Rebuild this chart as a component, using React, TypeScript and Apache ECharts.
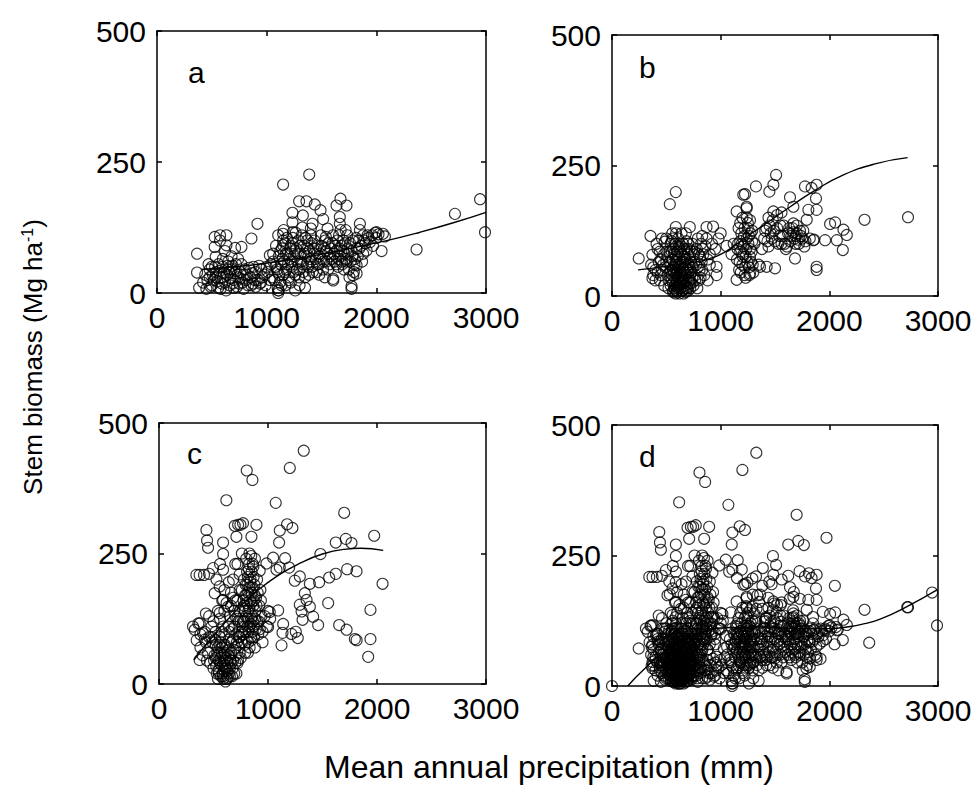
import React, { useEffect, useRef } from "react";
import * as echarts from "echarts";

// ---- data (x: mean annual precipitation, mm; y: stem biomass, Mg/ha) ----
const xTicks = [0, 1000, 2000, 3000];
const yTicks = [0, 250, 500];
const panelLabels = ["a", "b", "c", "d"];

const aPoints = [
  [365, 75], [365, 39], [384, 10], [526, 107], [575, 110], [526, 88], [575, 100], [535, 69], [633, 110], [633, 91],
  [770, 88], [712, 86], [861, 104], [916, 132], [1150, 207], [1388, 226], [1296, 175], [1363, 175], [1439, 169],
  [1491, 158], [1235, 153], [1235, 135], [1330, 148], [1239, 116], [1515, 141], [1673, 180], [1728, 167], [1637, 167],
  [1667, 145], [1667, 132], [1850, 132], [1850, 120], [2002, 116], [2078, 108], [2048, 80], [2367, 83], [2717, 151],
  [2946, 179], [2991, 116], [1774, 13], [1774, 8], [1105, 0], [1105, 5], [1607, 24], [1820, 37], [876, 18], [937, 18],
  [1059, 75], [1029, 72], [1150, 113], [1150, 100], [1150, 91], [1418, 132], [1403, 123], [1555, 123], [1540, 107],
  [1941, 97], [1911, 81], [1880, 75], [1820, 53], [1789, 34],
  [420, 20], [450, 8], [480, 30], [500, 15], [520, 25], [540, 40], [560, 10], [580, 30], [600, 50], [620, 20],
  [640, 35], [660, 15], [680, 45], [700, 25], [720, 55], [740, 30], [760, 40], [780, 20], [800, 45], [820, 35],
  [850, 30], [880, 50], [900, 40], [920, 25], [950, 45], [980, 35], [1000, 50], [700, 10], [650, 60], [600, 65],
  [560, 55], [620, 80], [680, 70], [740, 65], [540, 30], [590, 18], [630, 5], [480, 45], [510, 35], [790, 8],
  [860, 15], [900, 12], [950, 20], [670, 28], [710, 38], [750, 18], [690, 52], [730, 12], [810, 25], [840, 48],
  [460, 25], [490, 12], [530, 50], [550, 22], [570, 42], [610, 38], [640, 52], [660, 40], [690, 18], [720, 42],
  [760, 28], [770, 55], [790, 35], [830, 15], [870, 38], [890, 25], [930, 52], [960, 30], [990, 15], [1010, 40],
  [1030, 25], [1040, 55], [600, 30], [650, 45], [580, 8], [500, 50], [470, 55], [440, 35],
  [1050, 30], [1080, 50], [1100, 10], [1100, 40], [1110, 70], [1120, 20], [1130, 55], [1140, 85], [1150, 35],
  [1160, 60], [1170, 95], [1180, 45], [1190, 75], [1200, 25], [1210, 65], [1220, 90], [1230, 50], [1240, 105],
  [1250, 70], [1260, 35], [1270, 85], [1280, 60], [1290, 100], [1300, 45], [1310, 75], [1320, 110], [1330, 55],
  [1340, 90], [1350, 30], [1360, 70], [1370, 100], [1380, 50], [1390, 80], [1400, 60], [1410, 95], [1420, 40],
  [1430, 75], [1450, 85], [1460, 55], [1480, 70], [1500, 90], [1520, 60], [1540, 80], [1560, 45], [1580, 70],
  [1600, 95], [1620, 60], [1640, 80], [1650, 50], [1660, 110], [1670, 70], [1680, 90], [1690, 55], [1700, 100],
  [1710, 75], [1720, 120], [1730, 60], [1740, 85], [1750, 45], [1760, 95], [1780, 70], [1800, 55], [1820, 85],
  [1840, 100], [1860, 90], [1880, 110], [1900, 95], [1920, 110], [1960, 110], [2000, 105], [1990, 115],
  [1170, 15], [1220, 20], [1260, 5], [1300, 15], [1350, 10], [1110, 5], [1606, 27], [1480, 35], [1530, 30],
  [1060, 60], [1070, 25], [1085, 90], [1095, 45], [1105, 110], [1115, 35], [1125, 80], [1135, 15], [1145, 65],
  [1155, 120], [1165, 40], [1175, 75], [1185, 105], [1195, 55], [1205, 30], [1215, 85], [1225, 60], [1235, 95],
  [1245, 40], [1255, 80], [1265, 115], [1275, 45], [1285, 75], [1295, 30], [1305, 90], [1315, 60], [1325, 125],
  [1335, 40], [1345, 75], [1355, 105], [1365, 55], [1375, 85], [1385, 35], [1395, 65], [1405, 110], [1415, 50],
  [1425, 85], [1435, 100], [1445, 65], [1455, 40], [1465, 90], [1475, 55], [1485, 75], [1495, 110], [1505, 65],
  [1515, 45], [1525, 85], [1535, 100], [1545, 60], [1555, 75], [1565, 95], [1575, 55], [1585, 85], [1595, 65],
  [1605, 110], [1615, 75], [1625, 90], [1635, 55], [1645, 100], [1655, 65], [1665, 85], [1675, 120], [1685, 60],
  [1695, 80], [1705, 45], [1715, 95], [1725, 65], [1735, 110], [1745, 75], [1755, 30], [1765, 60], [1775, 80],
  [1785, 100], [1795, 40], [1805, 65], [1815, 105], [1830, 70], [1845, 85], [1870, 60], [1890, 100], [1930, 105],
  [1970, 90], [2020, 112], [2060, 113],
];

const bPoints = [
  [246, 72], [354, 115], [372, 79], [372, 34], [532, 176], [587, 199], [587, 132], [716, 132], [485, 104], [870, 132],
  [930, 133], [962, 56], [962, 40], [1054, 96], [1147, 162], [1208, 194], [1239, 171], [1325, 210], [1448, 200],
  [1485, 213], [1510, 232], [1147, 31], [1270, 43], [1362, 56], [1423, 56], [1500, 53], [1485, 162], [1638, 189],
  [1669, 171], [1776, 210], [1837, 207], [1883, 213], [1877, 187], [1883, 165], [1807, 165], [1792, 146], [1669, 139],
  [1684, 72], [1883, 56], [1883, 50], [2007, 138], [2053, 141], [2130, 127], [2161, 117], [2124, 88], [2069, 107],
  [2324, 146], [2724, 151], [1961, 107], [1853, 107], [1224, 195], [1239, 168],
  [400, 50], [420, 90], [440, 30], [450, 70], [460, 110], [480, 20], [490, 55], [500, 85], [510, 40], [520, 15],
  [530, 65], [540, 100], [550, 30], [555, 120], [560, 50], [565, 10], [570, 80], [575, 35], [580, 60], [585, 5],
  [590, 95], [595, 25], [600, 45], [600, 70], [605, 15], [610, 110], [615, 35], [620, 55], [625, 20], [630, 85],
  [635, 40], [640, 65], [645, 10], [650, 30], [655, 100], [660, 50], [665, 75], [670, 20], [680, 40], [690, 90],
  [700, 60], [710, 30], [720, 75], [730, 45], [740, 100], [750, 20], [760, 65], [770, 40], [780, 90], [790, 55],
  [800, 30], [810, 75], [820, 100], [830, 50], [840, 80], [860, 95], [880, 70], [900, 60], [850, 40], [880, 30],
  [700, 10], [620, 5], [560, 110], [500, 110], [540, 50], [560, 70], [580, 20], [600, 30], [620, 40], [640, 25],
  [660, 35], [680, 55], [700, 45], [720, 25], [590, 40], [610, 60], [630, 15], [650, 50], [670, 65], [550, 85],
  [570, 45], [610, 85], [640, 95], [680, 15], [720, 50], [740, 35], [600, 8], [660, 12], [590, 75], [530, 45],
  [510, 75], [470, 60], [450, 40], [430, 65], [400, 30], [380, 55], [410, 100], [760, 85], [790, 110], [830, 115],
  [870, 110], [900, 80], [920, 100], [950, 90], [980, 110], [1000, 120],
  [520, 30], [530, 85], [540, 20], [545, 60], [550, 105], [555, 40], [560, 25], [565, 90], [570, 55], [575, 15],
  [580, 100], [585, 45], [590, 65], [595, 10], [600, 85], [605, 50], [610, 20], [615, 95], [620, 70], [625, 45],
  [630, 25], [635, 60], [640, 10], [645, 80], [650, 40], [655, 65], [660, 25], [665, 90], [670, 45], [675, 70],
  [680, 30], [685, 105], [690, 50], [695, 15], [700, 80], [705, 35], [710, 60], [715, 90], [720, 15], [725, 65],
  [730, 85], [735, 25], [745, 55], [755, 80], [765, 30], [775, 60], [785, 15], [795, 80], [805, 50], [815, 35],
  [825, 65], [835, 90], [560, 8], [580, 12], [600, 18], [620, 28], [640, 40], [660, 5], [680, 8], [620, 100],
  [590, 120], [640, 120], [680, 120], [700, 100], [500, 65], [480, 80], [460, 50], [420, 45], [440, 85], [380, 40],
  [360, 60],
  [1150, 70], [1160, 100], [1170, 50], [1180, 85], [1190, 120], [1200, 60], [1210, 95], [1220, 40], [1230, 75],
  [1240, 110], [1250, 140], [1260, 55], [1270, 90], [1280, 65], [1290, 125], [1300, 45], [1310, 100], [1200, 150],
  [1250, 130], [1230, 35], [1100, 80], [1120, 100], [1350, 60], [1380, 90], [1240, 150], [1260, 115], [1220, 130],
  [1180, 105], [1270, 75], [1210, 80], [1155, 90], [1165, 130], [1175, 65], [1185, 45], [1195, 100], [1205, 75],
  [1215, 115], [1225, 55], [1235, 90], [1245, 65], [1255, 100], [1265, 40], [1275, 120], [1285, 85], [1295, 60],
  [1180, 140], [1270, 145], [1290, 105],
  [1400, 110], [1420, 130], [1440, 95], [1460, 120], [1480, 145], [1500, 105], [1520, 130], [1540, 115],
  [1560, 100], [1580, 135], [1600, 90], [1620, 120], [1640, 105], [1660, 130], [1680, 110], [1700, 120],
  [1720, 100], [1740, 115], [1760, 125], [1780, 105], [1440, 150], [1520, 155], [1560, 160], [1610, 95],
  [1690, 115], [1710, 108], [1670, 122], [1820, 110], [1860, 108], [1410, 125], [1430, 105], [1450, 135],
  [1470, 110], [1490, 125], [1530, 100], [1550, 135], [1570, 115], [1590, 100], [1630, 130], [1650, 115],
  [1690, 100], [1700, 135], [1730, 125], [1750, 110], [1770, 95],
];

const cPoints = [
  [1328, 447], [1200, 414], [805, 409], [857, 391], [618, 352], [1071, 347], [1699, 328], [747, 305], [695, 303],
  [894, 305], [1175, 306], [1224, 299], [1108, 294], [710, 282], [848, 282], [441, 275], [450, 261], [588, 271],
  [1102, 271], [1974, 284], [1714, 278], [1622, 271], [1766, 270], [1481, 249], [588, 249], [373, 209], [459, 211],
  [1047, 242], [1157, 241], [1108, 223], [1194, 223], [1292, 206], [1246, 198], [1384, 192], [1469, 195], [1561, 204],
  [1622, 211], [1726, 220], [1812, 216], [2051, 192], [1338, 174], [1354, 161], [1384, 148], [1414, 129], [1460, 113],
  [1292, 152], [1308, 139], [1317, 123], [1255, 100], [1273, 88], [1552, 155], [1940, 142], [1653, 113], [1721, 104],
  [1797, 86], [1813, 84], [1940, 86], [1919, 52], [1139, 115], [1133, 98], [1124, 74], [1215, 96], [1093, 141],
  [1016, 138], [924, 217], [1001, 109], [312, 110], [361, 116], [346, 84], [373, 46], [710, 20], [588, 15],
  [343, 209], [413, 209], [496, 222], [588, 219], [527, 200], [557, 187], [511, 174], [588, 161], [634, 148],
  [557, 136], [374, 116], [328, 104], [481, 110], [404, 97], [986, 231], [1078, 219], [726, 305], [771, 308], [435, 295],
  [760, 80], [770, 120], [780, 150], [790, 100], [800, 170], [800, 130], [810, 190], [815, 60], [820, 140], [825, 220],
  [830, 110], [835, 160], [840, 200], [845, 90], [850, 175], [855, 130], [860, 230], [865, 150], [870, 110], [875, 190],
  [880, 70], [885, 140], [890, 165], [900, 120], [910, 95], [920, 150], [930, 180], [940, 130], [950, 100], [970, 130],
  [990, 110], [1000, 140], [1020, 125], [760, 180], [780, 200], [800, 240], [830, 250], [850, 215], [790, 60],
  [740, 140], [720, 160], [730, 100], [750, 50], [900, 200], [950, 80], [880, 240], [790, 140], [810, 110], [820, 80],
  [830, 185], [860, 100], [870, 160], [845, 125], [805, 155], [775, 95], [815, 205],
  [765, 110], [775, 160], [785, 75], [795, 190], [805, 85], [812, 125], [818, 175], [822, 100], [828, 145], [832, 70],
  [838, 195], [842, 115], [848, 155], [852, 85], [858, 185], [862, 120], [868, 205], [872, 90], [878, 170], [882, 125],
  [888, 105], [895, 150], [905, 175], [915, 120], [925, 105], [935, 160], [808, 215], [826, 230], [846, 245],
  [866, 225], [790, 170], [780, 120], [770, 145], [760, 100], [750, 120], [740, 90], [730, 75],
  [450, 60], [470, 40], [490, 80], [500, 30], [510, 55], [520, 100], [530, 20], [540, 70], [550, 45], [560, 90],
  [570, 15], [575, 60], [580, 35], [590, 110], [600, 25], [605, 75], [610, 50], [620, 10], [630, 40], [640, 85],
  [650, 30], [660, 60], [670, 105], [680, 45], [690, 20], [700, 70], [710, 95], [720, 40], [730, 120], [740, 60],
  [700, 130], [650, 130], [600, 140], [560, 125], [520, 75], [480, 90], [430, 80], [420, 100], [380, 95], [660, 175],
  [640, 195], [600, 180], [620, 155], [680, 200], [560, 230], [700, 230], [720, 230], [740, 210], [760, 250],
  [660, 150], [580, 160], [540, 140], [500, 120], [460, 130], [430, 135], [550, 20], [590, 55], [610, 30], [630, 65],
  [650, 15], [570, 80], [600, 95], [620, 45], [640, 20], [680, 85], [700, 40], [520, 50], [540, 10], [560, 40],
  [580, 70], [600, 60], [660, 40],
  [505, 45], [515, 85], [525, 35], [535, 60], [545, 25], [555, 75], [565, 50], [575, 100], [585, 20], [595, 45],
  [605, 35], [615, 70], [625, 25], [635, 55], [645, 100], [655, 45], [665, 80], [675, 30], [685, 65], [695, 110],
  [705, 55], [715, 80], [725, 45], [735, 90], [590, 10], [630, 12], [670, 15], [610, 5], [560, 60], [640, 110],
  [690, 140], [720, 125], [700, 160], [740, 180], [680, 165], [380, 70], [400, 55], [420, 85], [440, 45], [460, 90],
];

const dExtraPoints = [[0, 0]];
const dPoints = [...aPoints, ...bPoints, ...cPoints, ...dExtraPoints];

const aFit = [[400, 45], [800, 52], [1200, 63], [1600, 78], [2094, 100], [2400, 116], [2702, 134], [3000, 154]];
const bFit = [[240, 50], [600, 60], [960, 76], [1250, 115], [1640, 171], [1850, 200], [2130, 232], [2440, 254], [2720, 265]];
const cFit = [[320, 46], [500, 93], [700, 139], [900, 178], [1100, 209], [1300, 232], [1500, 249], [1700, 258], [1850, 260], [2057, 256]];
const dFit = [[145, 0], [300, 33], [500, 68], [800, 100], [1100, 112], [1400, 113], [1700, 110], [2000, 110], [2192, 114], [2314, 119], [2468, 128], [2714, 152], [2991, 184]];

const panelPoints = [aPoints, bPoints, cPoints, dPoints];
const panelFits = [aFit, bFit, cFit, dFit];

// ---- layout ----
const FONT = "'Liberation Sans', Arial, Helvetica, sans-serif";
const grids = [
  { left: 157, top: 31, width: 329, height: 262 },
  { left: 612, top: 35, width: 326, height: 261 },
  { left: 159, top: 423, width: 327, height: 261 },
  { left: 612, top: 425, width: 326, height: 261 },
];
const letterPos = [
  [188, 87], [639, 82], [187, 468], [639, 471],
];

export default function App() {
  const ref = useRef<HTMLDivElement>(null);
  useEffect(() => {
    document.body.style.margin = "0";
    if (!ref.current) return;
    const chart = echarts.init(ref.current, undefined, { renderer: "svg" });
    const line = { color: "#000", width: 1.5 };
    const xAxes: any[] = [];
    const yAxes: any[] = [];
    grids.forEach((_, i) => {
      ["bottom", "top"].forEach((pos) => {
        xAxes.push({
          type: "value", gridIndex: i, position: pos, min: xTicks[0], max: xTicks[xTicks.length - 1],
          interval: xTicks[1] - xTicks[0],
          axisLine: { show: true, onZero: false, lineStyle: line },
          axisTick: { show: true, inside: true, length: 5, lineStyle: line },
          axisLabel: {
            show: pos === "bottom", fontSize: 30, color: "#000", fontFamily: FONT, margin: 9,
            formatter: (v: number) => String(v),
          },
          splitLine: { show: false },
        });
      });
      ["left", "right"].forEach((pos) => {
        yAxes.push({
          type: "value", gridIndex: i, position: pos, min: yTicks[0], max: yTicks[yTicks.length - 1],
          interval: yTicks[1] - yTicks[0],
          axisLine: { show: true, onZero: false, lineStyle: line },
          axisTick: { show: true, inside: true, length: 5, lineStyle: line },
          axisLabel: {
            show: pos === "left", fontSize: 30, color: "#000", fontFamily: FONT, margin: 11,
            formatter: (v: number) => String(v),
          },
          splitLine: { show: false },
        });
      });
    });
    const series: any[] = [];
    grids.forEach((_, i) => {
      series.push({
        type: "scatter", xAxisIndex: i * 2, yAxisIndex: i * 2, data: panelPoints[i],
        symbol: "circle", symbolSize: 11,
        itemStyle: { color: "rgba(0,0,0,0)", borderColor: "#000", borderWidth: 1.1 },
        emphasis: { disabled: true },
      });
      series.push({
        type: "line", xAxisIndex: i * 2, yAxisIndex: i * 2, data: panelFits[i],
        smooth: true, showSymbol: false, symbol: "none",
        lineStyle: { color: "#000", width: 1.4 },
      });
    });
    const graphic: any[] = panelLabels.map((t, i) => ({
      type: "text", x: letterPos[i][0], y: letterPos[i][1],
      style: { text: t, fontSize: 30, fontFamily: FONT, fill: "#000", textAlign: "left", textVerticalAlign: "bottom" },
    }));
    graphic.push({
      type: "text", x: 549, y: 767,
      style: { text: "Mean annual precipitation (mm)", fontSize: 32, fontFamily: FONT, fill: "#000", textAlign: "center", textVerticalAlign: "middle" },
    });
    graphic.push({
      type: "text", x: 33, y: 357, rotation: Math.PI / 2,
      style: {
        text: "{n|Stem biomass (Mg ha}{s|-1}{n|)}",
        rich: {
          n: { fontSize: 26, fontFamily: FONT, fill: "#000" },
          s: { fontSize: 16, fontFamily: FONT, fill: "#000", verticalAlign: "top", padding: [0, 0, 12, 0] },
        },
        textAlign: "center", textVerticalAlign: "middle",
      },
    });
    chart.setOption({
      animation: false,
      backgroundColor: "#fff",
      grid: grids.map((g) => ({ ...g, containLabel: false })),
      xAxis: xAxes,
      yAxis: yAxes,
      series,
      graphic,
    });
    return () => chart.dispose();
  }, []);
  return <div ref={ref} style={{ width: 977, height: 810 }} />;
}
